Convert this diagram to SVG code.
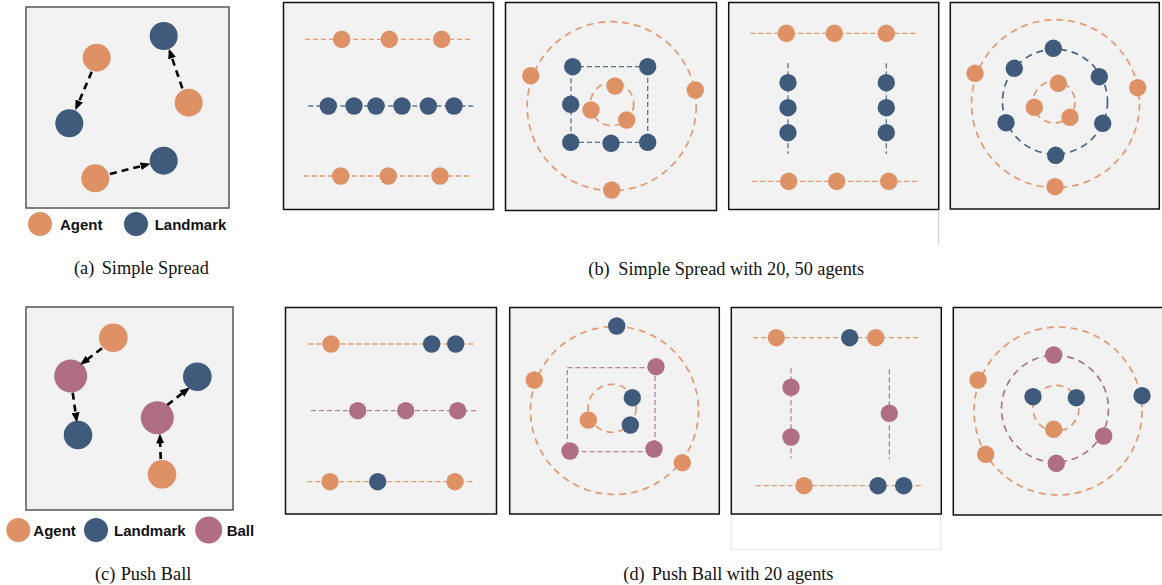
<svg xmlns="http://www.w3.org/2000/svg" width="1162" height="585" viewBox="0 0 1162 585">
<style>
.bg{fill:#f2f2f2;stroke:#111;stroke-width:1.5}
.bgg{fill:#f2f2f2;stroke:#555;stroke-width:1.5}
.ag{fill:#DF9166}
.lm{fill:#3F5A7A}
.bl{fill:#B06E83}
.lo{stroke:#E39A70;stroke-width:1.3;stroke-dasharray:5 3;fill:none}
.lb{stroke:#5A7290;stroke-width:1.3;stroke-dasharray:5 3;fill:none}
.lp{stroke:#B88596;stroke-width:1.3;stroke-dasharray:5 3;fill:none}
.ro{stroke:#E39A70;stroke-width:1.7;stroke-dasharray:7 5;fill:none}
.rb{stroke:#4A6383;stroke-width:1.7;stroke-dasharray:7 5;fill:none}
.rp{stroke:#A8778A;stroke-width:1.7;stroke-dasharray:7 5;fill:none}
.arr{stroke:#000;stroke-width:2.6;stroke-dasharray:7 5;fill:none;marker-end:url(#ah)}
.leg{font-family:"Liberation Sans",Arial,sans-serif;font-weight:bold;font-size:15px;fill:#111}
.cap{font-family:"Liberation Serif","Times New Roman",serif;font-size:18.3px;fill:#111}
</style>
<defs>
<marker id="ah" viewBox="0 0 10 8" refX="7" refY="4" markerWidth="10" markerHeight="8" markerUnits="userSpaceOnUse" orient="auto">
<path d="M0,0 L10,4 L0,8 z" fill="#000"/>
</marker>
</defs>

<!-- (a) Simple Spread -->
<g id="panel-a">
<rect class="bgg" x="26" y="7" width="203" height="201"/>
<g id="a-agent1"><circle class="ag" cx="96.7" cy="57.7" r="14"/></g>
<g id="a-landmark1"><circle class="lm" cx="163.7" cy="36" r="14"/></g>
<g id="a-agent2"><circle class="ag" cx="188.7" cy="102.7" r="14"/></g>
<g id="a-landmark2"><circle class="lm" cx="69.3" cy="123.3" r="14"/></g>
<g id="a-agent3"><circle class="ag" cx="95.3" cy="178.3" r="14"/></g>
<g id="a-landmark3"><circle class="lm" cx="163.7" cy="160.7" r="14"/></g>
</g>
<g id="a-connectors">
<line class="arr" x1="91.7" y1="71.7" x2="76.5" y2="107.5"/>
<line class="arr" x1="182.3" y1="88.3" x2="169.8" y2="51.5"/>
<line class="arr" x1="110" y1="174" x2="147.5" y2="164.5"/>
</g>
<g id="legend-a">
<circle class="ag" cx="40" cy="224" r="12"/>
<text class="leg" x="60" y="229.5">Agent</text>
<circle class="lm" cx="136" cy="224" r="12"/>
<text class="leg" x="154.7" y="229.5">Landmark</text>
</g>
<text class="cap" x="74" y="274">(a)</text>
<text class="cap" x="101.7" y="274">Simple Spread</text>

<!-- (b) Simple Spread with 20, 50 agents -->
<g id="panel-b1">
<rect class="bg" x="283.5" y="2.5" width="210" height="207"/>
<line class="lo" x1="305" y1="39.3" x2="472.3" y2="39.3"/>
<line class="lb" x1="308.3" y1="106" x2="475" y2="106"/>
<line class="lo" x1="304" y1="176" x2="470.7" y2="176"/>
<circle class="ag" cx="341.7" cy="39.3" r="8.7"/>
<circle class="ag" cx="389.3" cy="39.3" r="8.7"/>
<circle class="ag" cx="441.7" cy="39.3" r="8.7"/>
<circle class="lm" cx="328.3" cy="106" r="8.7"/>
<circle class="lm" cx="354" cy="106" r="8.7"/>
<circle class="lm" cx="376" cy="106" r="8.7"/>
<circle class="lm" cx="402" cy="106" r="8.7"/>
<circle class="lm" cx="428.3" cy="106" r="8.7"/>
<circle class="lm" cx="454" cy="106" r="8.7"/>
<circle class="ag" cx="340.7" cy="176" r="8.7"/>
<circle class="ag" cx="388.3" cy="176" r="8.7"/>
<circle class="ag" cx="440" cy="176" r="8.7"/>
</g>

<g id="panel-b2">
<rect class="bg" x="505.5" y="2.5" width="211" height="208"/>
<circle class="ro" cx="611.7" cy="106.2" r="84.5"/>
<rect class="lb" x="571" y="66.7" width="76.7" height="75.6"/>
<circle class="ro" cx="612" cy="104" r="21.7"/>
<circle class="ag" cx="530.7" cy="75.7" r="8.7"/>
<circle class="ag" cx="695.3" cy="90" r="8.7"/>
<circle class="ag" cx="611.7" cy="190" r="8.7"/>
<circle class="lm" cx="572.7" cy="66.7" r="8.7"/>
<circle class="lm" cx="647.7" cy="66.7" r="8.7"/>
<circle class="lm" cx="570.7" cy="104.3" r="8.7"/>
<circle class="lm" cx="570.7" cy="142.3" r="8.7"/>
<circle class="lm" cx="611" cy="143.3" r="8.7"/>
<circle class="lm" cx="647.7" cy="142.3" r="8.7"/>
<circle class="ag" cx="615" cy="86" r="8.7"/>
<circle class="ag" cx="591" cy="110" r="8.7"/>
<circle class="ag" cx="626.7" cy="120" r="8.7"/>
</g>

<g id="panel-b3">
<rect class="bg" x="728.7" y="2.5" width="210" height="207"/>
<line x1="938.7" y1="210" x2="938.7" y2="245" stroke="#ccc" stroke-width="1"/>
<line class="lo" x1="750.3" y1="33.3" x2="917" y2="33.3"/>
<line class="lb" x1="788" y1="63.3" x2="788" y2="154"/>
<line class="lb" x1="886.3" y1="63.3" x2="886.3" y2="154"/>
<line class="lo" x1="752" y1="181.3" x2="919.3" y2="181.3"/>
<circle class="ag" cx="786.3" cy="33.3" r="8.7"/>
<circle class="ag" cx="834.3" cy="33.3" r="8.7"/>
<circle class="ag" cx="886.3" cy="33.3" r="8.7"/>
<circle class="lm" cx="788" cy="82.7" r="8.7"/>
<circle class="lm" cx="788" cy="107.7" r="8.7"/>
<circle class="lm" cx="788" cy="132.7" r="8.7"/>
<circle class="lm" cx="886.3" cy="82.7" r="8.7"/>
<circle class="lm" cx="886.3" cy="107.7" r="8.7"/>
<circle class="lm" cx="886.3" cy="132.7" r="8.7"/>
<circle class="ag" cx="788.7" cy="181.3" r="8.7"/>
<circle class="ag" cx="836.7" cy="181.3" r="8.7"/>
<circle class="ag" cx="888.7" cy="181.3" r="8.7"/>
</g>

<g id="panel-b4">
<rect class="bg" x="950.3" y="2.5" width="209" height="206.5"/>
<circle class="ro" cx="1055.5" cy="103.7" r="84"/>
<circle class="rb" cx="1055" cy="101.7" r="52.5"/>
<circle class="ro" cx="1054" cy="102" r="21"/>
<circle class="ag" cx="975" cy="73.3" r="8.7"/>
<circle class="ag" cx="1137.7" cy="87.7" r="8.7"/>
<circle class="ag" cx="1055" cy="186.7" r="8.7"/>
<circle class="lm" cx="1053.3" cy="48.3" r="8.7"/>
<circle class="lm" cx="1014.3" cy="68.3" r="8.7"/>
<circle class="lm" cx="1099.3" cy="76.7" r="8.7"/>
<circle class="lm" cx="1006" cy="122.7" r="8.7"/>
<circle class="lm" cx="1102.7" cy="123.3" r="8.7"/>
<circle class="lm" cx="1055.7" cy="155.3" r="8.7"/>
<circle class="ag" cx="1058.3" cy="83.3" r="8.7"/>
<circle class="ag" cx="1034.3" cy="107.3" r="8.7"/>
<circle class="ag" cx="1070" cy="117.3" r="8.7"/>
</g>
<text class="cap" x="588.3" y="275">(b)</text>
<text class="cap" x="618.3" y="275">Simple Spread with 20, 50 agents</text>

<!-- (c) Push Ball -->
<g id="panel-c">
<rect class="bgg" x="26" y="307" width="207" height="203"/>
<g id="c-agent1"><circle class="ag" cx="113.3" cy="337.7" r="14.3"/></g>
<g id="c-ball1"><circle class="bl" cx="70.7" cy="376" r="16.5"/></g>
<g id="c-landmark1"><circle class="lm" cx="78" cy="435" r="14.3"/></g>
<g id="c-landmark2"><circle class="lm" cx="197.3" cy="376.7" r="14.3"/></g>
<g id="c-ball2"><circle class="bl" cx="157.3" cy="417.7" r="16.5"/></g>
<g id="c-agent2"><circle class="ag" cx="162" cy="474.3" r="14.3"/></g>
</g>
<g id="c-connectors">
<line class="arr" x1="102" y1="348.3" x2="82.5" y2="363"/>
<line class="arr" x1="72.7" y1="392.7" x2="76.5" y2="419.5"/>
<line class="arr" x1="160.7" y1="459" x2="160" y2="436.5"/>
<line class="arr" x1="167.3" y1="405" x2="187.5" y2="389.3"/>
</g>
<g id="legend-c">
<circle class="ag" cx="18.3" cy="530" r="12"/>
<text class="leg" x="33.3" y="535.5">Agent</text>
<circle class="lm" cx="96" cy="530" r="12"/>
<text class="leg" x="114" y="535.5">Landmark</text>
<circle class="bl" cx="208.7" cy="530" r="13.5"/>
<text class="leg" x="226.7" y="535.5">Ball</text>
</g>
<text class="cap" x="95" y="580">(c)</text>
<text class="cap" x="120.7" y="580">Push Ball</text>

<!-- (d) Push Ball with 20 agents -->
<g id="panel-d1">
<rect class="bg" x="285.5" y="307.5" width="211" height="206.5"/>
<line class="lo" x1="308.3" y1="344" x2="476" y2="344"/>
<line class="lp" x1="311" y1="410.7" x2="479.3" y2="410.7"/>
<line class="lo" x1="307.3" y1="481.7" x2="475" y2="481.7"/>
<circle class="ag" cx="331" cy="344" r="8.7"/>
<circle class="lm" cx="431.7" cy="344" r="8.7"/>
<circle class="lm" cx="455.7" cy="344" r="8.7"/>
<circle class="bl" cx="357.7" cy="410.7" r="8.7"/>
<circle class="bl" cx="405.7" cy="410.7" r="8.7"/>
<circle class="bl" cx="457.7" cy="410.7" r="8.7"/>
<circle class="ag" cx="330" cy="481.7" r="8.7"/>
<circle class="lm" cx="377.7" cy="481.7" r="8.7"/>
<circle class="ag" cx="455" cy="481.7" r="8.7"/>
</g>

<g id="panel-d2">
<rect class="bg" x="509.7" y="307.5" width="209.6" height="206.5"/>
<circle class="ro" cx="614.5" cy="410.5" r="84"/>
<rect class="lp" x="567.3" y="367.7" width="87.7" height="84"/>
<circle class="ro" cx="612" cy="408.3" r="24"/>
<circle class="lm" cx="616.7" cy="326" r="8.7"/>
<circle class="ag" cx="534.3" cy="380" r="8.7"/>
<circle class="ag" cx="682.3" cy="462.7" r="8.7"/>
<circle class="bl" cx="656" cy="366.7" r="8.7"/>
<circle class="bl" cx="570" cy="451" r="8.7"/>
<circle class="bl" cx="654" cy="449" r="8.7"/>
<circle class="lm" cx="632.3" cy="397.7" r="8.7"/>
<circle class="lm" cx="630.3" cy="425" r="8.7"/>
<circle class="ag" cx="588.3" cy="420" r="8.7"/>
</g>

<g id="panel-d3">
<rect x="731.3" y="514" width="209.4" height="35.3" fill="none" stroke="#e6e6e6" stroke-width="1"/>
<rect class="bg" x="731.3" y="307.5" width="210" height="206.5"/>
<line class="lo" x1="753" y1="337.7" x2="920.3" y2="337.7"/>
<line class="lp" x1="791" y1="368.3" x2="791" y2="458.3"/>
<line class="lp" x1="889.3" y1="369.3" x2="889.3" y2="459"/>
<line class="lo" x1="755.7" y1="485.7" x2="922.3" y2="485.7"/>
<circle class="ag" cx="776.3" cy="337.7" r="8.7"/>
<circle class="lm" cx="849.7" cy="337.7" r="8.7"/>
<circle class="ag" cx="875.7" cy="337.7" r="8.7"/>
<circle class="bl" cx="791" cy="387.3" r="8.7"/>
<circle class="bl" cx="791" cy="437" r="8.7"/>
<circle class="bl" cx="889.3" cy="413.3" r="8.7"/>
<circle class="ag" cx="804" cy="485.7" r="8.7"/>
<circle class="lm" cx="878" cy="485.7" r="8.7"/>
<circle class="lm" cx="903.7" cy="485.7" r="8.7"/>
</g>

<g id="panel-d4">
<rect class="bg" x="953.3" y="307.5" width="210" height="207.5"/>
<circle class="ro" cx="1058" cy="411" r="84"/>
<circle class="rp" cx="1055" cy="408.7" r="53.5"/>
<circle class="ro" cx="1056" cy="408.3" r="23"/>
<circle class="ag" cx="978" cy="380" r="8.7"/>
<circle class="ag" cx="985.7" cy="454.3" r="8.7"/>
<circle class="lm" cx="1142" cy="395.7" r="8.7"/>
<circle class="bl" cx="1053.7" cy="355" r="8.7"/>
<circle class="bl" cx="1103.7" cy="436" r="8.7"/>
<circle class="bl" cx="1056.3" cy="463.3" r="8.7"/>
<circle class="lm" cx="1033" cy="396.7" r="8.7"/>
<circle class="lm" cx="1076.3" cy="397.7" r="8.7"/>
<circle class="ag" cx="1053.7" cy="429.3" r="8.7"/>
</g>
<text class="cap" x="623.3" y="580">(d)</text>
<text class="cap" x="651.7" y="580">Push Ball with 20 agents</text>
</svg>
